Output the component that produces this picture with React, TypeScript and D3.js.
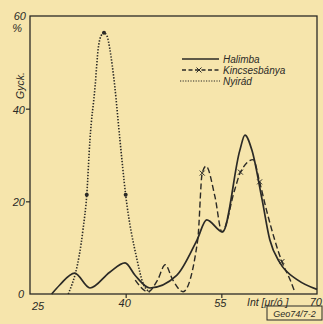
import React, { useEffect, useRef } from 'react';
import * as d3 from 'd3';

// grain size [µm/ó] vs frequency [%]
const halimbaX = [28.4, 29.7, 32.0, 34.4, 37.5, 39.9, 41.5, 43.8, 48.0, 51.2, 52.7, 55.2, 57.9, 58.7, 59.8, 61.4, 62.6, 64.2, 67.0, 70.0];
const halimbaY = [0, 2, 4.5, 1.3, 4.7, 6.7, 4, 1.3, 4, 11.7, 16, 13.4, 31, 34.3, 31, 20.3, 11.7, 6.7, 3, 1];

const kincsX = [41.5, 43.5, 45.0, 46.2, 47.4, 49.0, 51.3, 52.0, 52.6, 54.0, 55.1, 57.1, 58.0, 60.0, 61.0, 62.1, 64.5, 65.8, 66.5];
const kincsY = [3, 0.5, 3, 6.3, 3, 0.5, 11.7, 26.1, 27.6, 21, 13.4, 22.5, 26.3, 29, 24.2, 18, 7, 3, 0.5];
const kincsMarks = [52.0, 58.0, 61.0, 64.5];

const nyiradX = [31.0, 33.3, 33.9, 34.4, 35.2, 35.7, 36.1, 36.6, 37.1, 37.5, 38.3, 39.1, 40.0, 41.8, 42.7, 43.8];
const nyiradY = [0, 13.8, 21.4, 33.3, 44.7, 53.0, 55.6, 56.4, 55.6, 53.0, 44.7, 33.3, 21.4, 7.3, 2.4, 0.4];
const nyiradMarks = [33.9, 36.6, 40.0];

const yTicks = [20, 40];
const xTicks = [40, 55];
const seriesNames = ['Halimba', 'Kincsesbánya', 'Nyirád'];

const W = 323;
const H = 324;
const INK = '#2b2a26';
const FONT = '"Liberation Sans", "DejaVu Sans", sans-serif';

export default function App() {
  const ref = useRef<SVGSVGElement>(null);

  useEffect(() => {
    if (!ref.current) return;
    const svg = d3.select(ref.current);
    svg.selectAll('*').remove();

    svg.append('rect').attr('width', W).attr('height', H).attr('fill', '#f6e5ac');

    const x = d3.scaleLinear().domain([25, 70]).range([30, 317]);
    const y = d3.scaleLinear().domain([0, 60]).range([294, 16]);

    // frame
    svg.append('rect')
      .attr('x', x(25)).attr('y', y(60))
      .attr('width', x(70) - x(25)).attr('height', y(0) - y(60))
      .attr('fill', 'none').attr('stroke', INK).attr('stroke-width', 1.3);

    const yAxis = svg.append('g')
      .attr('transform', `translate(${x(25)},0)`)
      .call(d3.axisLeft(y).tickValues(yTicks).tickSize(4).tickFormat(() => ''));
    yAxis.select('.domain').remove();
    yAxis.selectAll('line').attr('stroke', INK).attr('stroke-width', 1.2);

    const xAxis = svg.append('g')
      .attr('transform', `translate(0,${y(0)})`)
      .call(d3.axisBottom(x).tickValues(xTicks).tickSize(4).tickFormat(() => ''));
    xAxis.select('.domain').remove();
    xAxis.selectAll('line').attr('stroke', INK).attr('stroke-width', 1.2);

    const txt = (s: string, px: number, py: number, size = 10, anchor = 'start') =>
      svg.append('text')
        .attr('x', px).attr('y', py)
        .attr('font-family', FONT).attr('font-style', 'italic')
        .attr('font-size', size).attr('fill', INK)
        .attr('text-anchor', anchor)
        .text(s);

    // y labels
    txt('60', x(25) - 4, y(60) + 4, 11, 'end');
    txt('%', x(25) - 8, y(60) + 16, 11, 'end');
    yTicks.forEach(t => txt(String(t), x(25) - 5, y(t) + 5, 11, 'end'));
    txt('0', x(25) - 6, y(0) + 4, 11, 'end');
    svg.append('text')
      .attr('transform', `translate(24,${y(45)}) rotate(-90)`)
      .attr('font-family', FONT).attr('font-style', 'italic')
      .attr('font-size', 10.5).attr('fill', INK).attr('text-anchor', 'middle')
      .text('Gyck.');

    // x labels
    txt('25', x(25) + 8, y(0) + 16, 11, 'middle');
    xTicks.forEach(t => txt(String(t), x(t) - 1, y(0) + 13, 11, 'middle'));
    txt('Int [μr/ó ]', x(70) - 70, y(0) + 12, 10.5, 'start');
    txt('70', W - 1, y(0) + 12, 11, 'end');

    svg.append('rect')
      .attr('x', 267).attr('y', 306).attr('width', 55).attr('height', 14)
      .attr('fill', 'none').attr('stroke', INK).attr('stroke-width', 1);
    txt('Geo74/7-2', 294.5, 317, 9, 'middle');

    const line = d3.line<[number, number]>()
      .x(d => x(d[0])).y(d => y(d[1]))
      .curve(d3.curveMonotoneX);

    const zip = (xs: number[], ys: number[]) => xs.map((v, i) => [v, ys[i]] as [number, number]);

    svg.append('path').attr('d', line(zip(halimbaX, halimbaY)))
      .attr('fill', 'none').attr('stroke', INK).attr('stroke-width', 1.7);

    svg.append('path').attr('d', line(zip(kincsX, kincsY)))
      .attr('fill', 'none').attr('stroke', INK).attr('stroke-width', 1.4)
      .attr('stroke-dasharray', '6 3');

    svg.append('path').attr('d', line(zip(nyiradX, nyiradY)))
      .attr('fill', 'none').attr('stroke', INK).attr('stroke-width', 1.6)
      .attr('stroke-dasharray', '1.4 1.6');

    const cross = (cx: number, cy: number) => {
      svg.append('path')
        .attr('d', `M${cx - 2.5},${cy - 2.5}L${cx + 2.5},${cy + 2.5}M${cx - 2.5},${cy + 2.5}L${cx + 2.5},${cy - 2.5}`)
        .attr('stroke', INK).attr('stroke-width', 1);
    };
    kincsMarks.forEach(m => {
      const i = kincsX.indexOf(m);
      cross(x(m), y(kincsY[i]));
    });
    nyiradMarks.forEach(m => {
      const i = nyiradX.indexOf(m);
      svg.append('circle').attr('cx', x(m)).attr('cy', y(nyiradY[i])).attr('r', 2).attr('fill', INK);
    });

    // legend
    const lg = svg.append('g');
    const rows = [62, 73, 84];
    lg.append('line').attr('x1', 182).attr('x2', 219).attr('y1', rows[0] - 3).attr('y2', rows[0] - 3)
      .attr('stroke', INK).attr('stroke-width', 1.6);
    lg.append('line').attr('x1', 182).attr('x2', 219).attr('y1', rows[1] - 3).attr('y2', rows[1] - 3)
      .attr('stroke', INK).attr('stroke-width', 1.3).attr('stroke-dasharray', '4 2.5');
    cross(199, rows[1] - 3);
    lg.append('line').attr('x1', 180).attr('x2', 220).attr('y1', rows[2] - 3).attr('y2', rows[2] - 3)
      .attr('stroke', INK).attr('stroke-width', 1.2).attr('stroke-dasharray', '1.2 1.4');
    seriesNames.forEach((n, i) => txt(n, 223, rows[i] + 1, 10));
  }, []);

  return (
    <svg ref={ref} width={W} height={H}
      style={{ position: 'absolute', left: 0, top: 0, display: 'block' }} />
  );
}
